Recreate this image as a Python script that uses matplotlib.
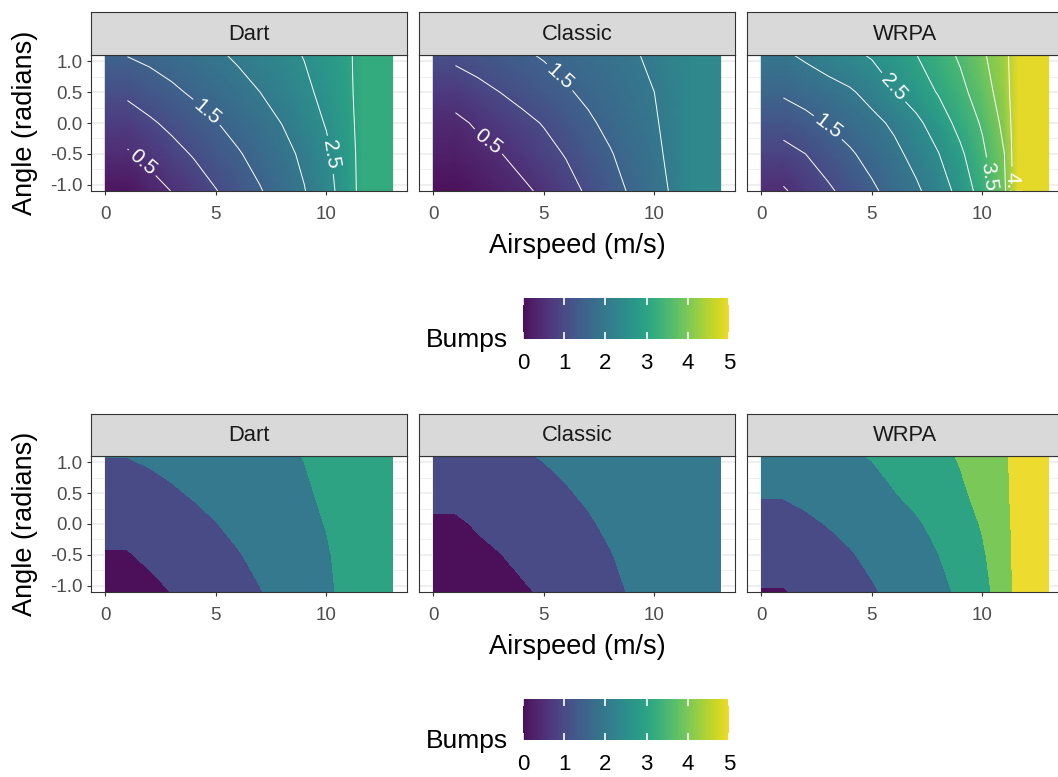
import numpy as np
import matplotlib
matplotlib.use('Agg')
import matplotlib.pyplot as plt
import matplotlib.cm as cm
from matplotlib.colors import ListedColormap, Normalize
from matplotlib.ticker import FormatStrFormatter

plt.rcParams['font.family'] = ['Liberation Sans', 'DejaVu Sans']
plt.rcParams['axes.unicode_minus'] = False

W, H = 1058, 777

# ---- data ----
models = ['Dart', 'Classic', 'WRPA']
airspeed = [0, 1, 2, 3, 4, 5, 6, 7, 8, 9, 10, 11, 11.6, 13]
angle = [-1.1, -0.5, 0.0, 0.5, 1.1]

# bumps, one row per angle (bottom to top), one column per airspeed
dart = [
    [0.10, 0.10, 0.30, 0.51, 0.74, 0.98, 1.23, 1.47, 1.72, 1.98, 2.32, 2.78, 3.15, 3.15],
    [0.45, 0.45, 0.64, 0.84, 1.04, 1.25, 1.46, 1.66, 1.86, 2.09, 2.41, 2.82, 3.15, 3.15],
    [0.76, 0.76, 0.93, 1.11, 1.29, 1.48, 1.66, 1.83, 2.01, 2.27, 2.53, 2.88, 3.15, 3.15],
    [1.09, 1.09, 1.25, 1.41, 1.57, 1.71, 1.86, 2.00, 2.20, 2.40, 2.63, 2.92, 3.15, 3.15],
    [1.52, 1.52, 1.62, 1.73, 1.83, 1.94, 2.06, 2.21, 2.36, 2.52, 2.73, 2.94, 3.15, 3.15],
]
classic = [
    [0.02, 0.02, 0.15, 0.28, 0.41, 0.58, 0.82, 1.07, 1.32, 1.57, 1.81, 2.11, 2.35, 2.35],
    [0.25, 0.25, 0.36, 0.48, 0.65, 0.84, 1.03, 1.25, 1.47, 1.68, 1.89, 2.17, 2.35, 2.35],
    [0.40, 0.40, 0.56, 0.72, 0.87, 1.03, 1.23, 1.43, 1.61, 1.78, 1.95, 2.20, 2.35, 2.35],
    [0.70, 0.70, 0.85, 1.00, 1.15, 1.30, 1.45, 1.59, 1.73, 1.86, 2.00, 2.23, 2.35, 2.35],
    [1.12, 1.12, 1.23, 1.33, 1.44, 1.54, 1.64, 1.75, 1.85, 1.95, 2.09, 2.26, 2.35, 2.35],
]
wrpa = [
    [0.45, 0.45, 0.69, 0.92, 1.16, 1.42, 1.67, 1.92, 2.24, 2.66, 3.23, 3.92, 4.90, 4.90],
    [0.84, 0.84, 1.00, 1.22, 1.44, 1.66, 1.88, 2.15, 2.48, 2.91, 3.40, 4.00, 4.90, 4.90],
    [1.20, 1.20, 1.36, 1.53, 1.70, 1.87, 2.08, 2.38, 2.75, 3.15, 3.56, 4.13, 4.90, 4.90],
    [1.57, 1.57, 1.69, 1.82, 1.94, 2.16, 2.47, 2.75, 3.03, 3.36, 3.76, 4.25, 4.90, 4.90],
    [1.93, 1.93, 2.08, 2.23, 2.39, 2.55, 2.77, 2.99, 3.27, 3.57, 3.93, 4.32, 4.90, 4.90],
]
bumps = {'Dart': dart, 'Classic': classic, 'WRPA': wrpa}

bump_ticks = [0, 1, 2, 3, 4, 5]
speed_ticks = [0, 5, 10]
angle_ticks = [-1.0, -0.5, 0.0, 0.5, 1.0]
plain_levels = [1.0, 2.0, 3.0, 4.0]
label_levels = [0.5, 1.5, 2.5, 3.5, 4.5]

# rough spots where the contour labels sit
label_spots = {
    'Dart': [(1.76, -0.60), (4.55, 0.16), (10.06, -0.52)],
    'Classic': [(2.55, -0.27), (5.67, 0.72)],
    'WRPA': [(2.97, -0.09), (6.09, 0.61), (10.12, -0.88), (11.4, -1.02)],
}

# ---- styling ----
base = plt.get_cmap('viridis')(np.linspace(0, 1, 256))
base[:, :3] = base[:, :3] * 0.88 + 0.5 * 0.12   # viridis, a bit muted like the original
cmap = ListedColormap(base)
norm = Normalize(vmin=0, vmax=5)

cols = [(91, 407), (419, 735), (747, 1063)]
rows = [(12, 55, 191), (414, 456, 592)]   # strip top, panel top, panel bottom


def px_box(l, t, r, b):
    return [l / W, 1 - b / H, (r - l) / W, (b - t) / H]


def in_range(levels, Z):
    return [l for l in levels if Z.min() < l < Z.max()]


def draw_panel(ax, name, discrete):
    X, Y = np.meshgrid(airspeed, angle)
    Z = np.array(bumps[name])
    if discrete:
        ax.contourf(X, Y, Z, levels=np.arange(-0.5, 6, 1),
                    colors=[cmap(norm(v)) for v in bump_ticks], zorder=1)
    else:
        ax.pcolormesh(X, Y, Z, shading='gouraud', cmap=cmap, norm=norm, zorder=1)
        # contour lines only start from 1 m/s like the original
        Xc, Yc, Zc = X[:, 1:], Y[:, 1:], Z[:, 1:]
        ax.contour(Xc, Yc, Zc, levels=in_range(plain_levels, Zc),
                   colors='white', linewidths=0.7, zorder=2)
        cs = ax.contour(Xc, Yc, Zc, levels=in_range(label_levels, Zc),
                        colors='white', linewidths=0.7, zorder=2)
        labels = ax.clabel(cs, manual=label_spots[name], inline=True,
                           fontsize=15, fmt='%.1f', colors='white')
        for t in labels:
            t.set_clip_on(True)

    ax.set_xlim(-0.65, 13.65)
    ax.set_ylim(-1.1, 1.1)
    ax.set_xticks(speed_ticks)
    ax.set_xticks([2.5, 7.5, 12.5], minor=True)
    ax.set_yticks(angle_ticks)
    ax.set_yticks([-0.75, -0.25, 0.25, 0.75], minor=True)
    ax.yaxis.set_major_formatter(FormatStrFormatter('%.1f'))
    ax.set_axisbelow(True)
    ax.grid(which='major', color='#EBEBEB', linewidth=1.1)
    ax.grid(which='minor', color='#EBEBEB', linewidth=0.55)
    ax.tick_params(which='minor', length=0)
    ax.tick_params(axis='x', which='major', length=3, width=0.8, color='#333333',
                   labelsize=13.5, labelcolor='#4D4D4D', pad=8)
    ax.tick_params(axis='y', which='major', length=3, width=0.8, color='#333333',
                   labelsize=13.5, labelcolor='#4D4D4D', pad=3)
    for sp in ax.spines.values():
        sp.set_color('#333333')
        sp.set_linewidth(0.8)


fig = plt.figure(figsize=(W / 100, H / 100), dpi=100)

for r, (st, pt, pb) in enumerate(rows):
    for c, name in enumerate(models):
        l, rr = cols[c]
        ax = fig.add_axes(px_box(l, pt, rr, pb))
        draw_panel(ax, name, discrete=(r == 1))
        if c > 0:
            ax.tick_params(axis='y', labelleft=False, left=False)

        sax = fig.add_axes(px_box(l, st, rr, pt))
        sax.set_facecolor('#D9D9D9')
        sax.set_xticks([])
        sax.set_yticks([])
        for sp in sax.spines.values():
            sp.set_color('#333333')
            sp.set_linewidth(0.8)
        sax.text(0.5, 0.48, name, ha='center', va='center', fontsize=15.8,
                 color='#1A1A1A', transform=sax.transAxes)

    fig.text(577 / W, 1 - (pb + 55) / H, 'Airspeed (m/s)', ha='center', va='center',
             fontsize=19.5)
    fig.text(25 / W, 1 - (pt + pb) / 2 / H, 'Angle (radians)', rotation=90,
             ha='center', va='center', fontsize=19.5)

    # colour bar legend
    cb_top = 298 + r * 401
    cax = fig.add_axes(px_box(523, cb_top, 729, cb_top + 41))
    cb = fig.colorbar(cm.ScalarMappable(norm=norm, cmap=cmap), cax=cax,
                      orientation='horizontal')
    cb.outline.set_visible(False)
    cb.set_ticks(bump_ticks)
    cax.tick_params(axis='x', direction='in', length=5, width=1.2, color='white',
                    top=True, bottom=True, labelsize=16, pad=10)
    fig.text(508 / W, 1 - (cb_top + 49) / H, 'Bumps', ha='right', va='baseline',
             fontsize=19)

fig.savefig('out.png', dpi=100)
